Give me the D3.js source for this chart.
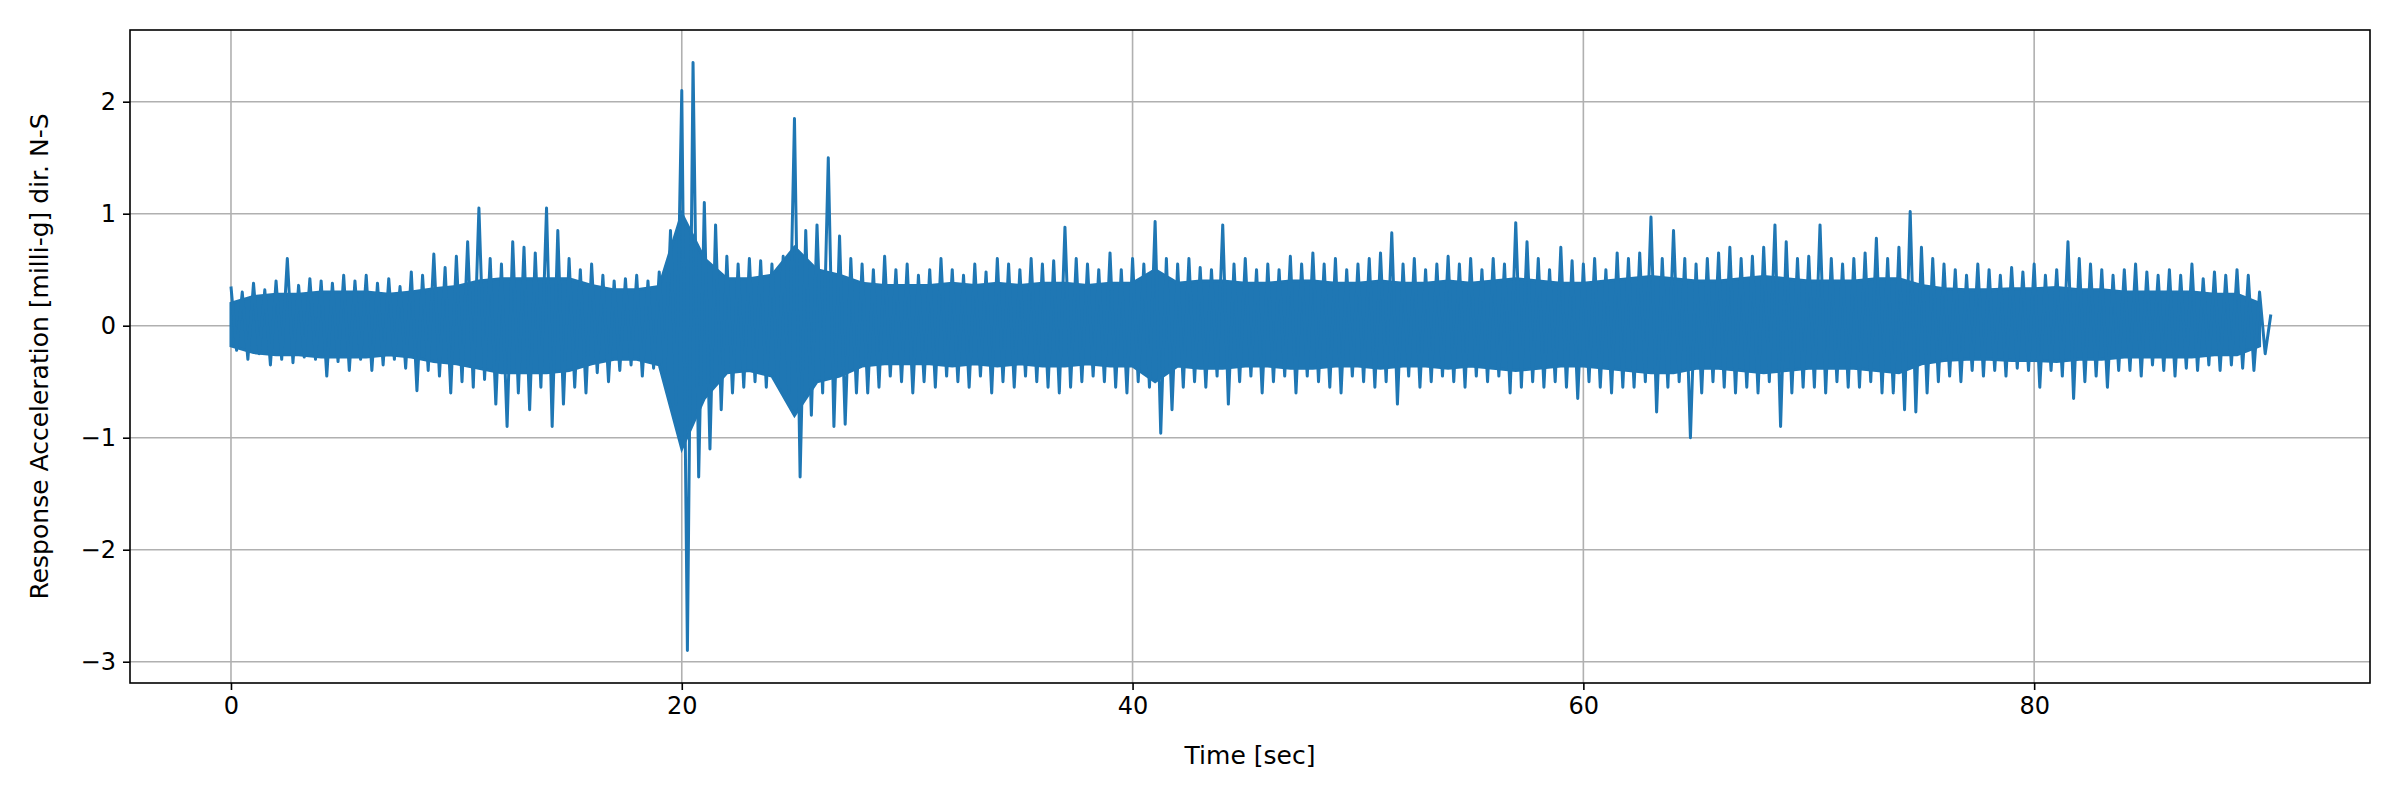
<!DOCTYPE html>
<html><head><meta charset="utf-8">
<script src="https://cdn.jsdelivr.net/npm/d3@7"></script>
<style>body{margin:0;background:#fff}svg{font-family:"DejaVu Sans",sans-serif}</style>
</head><body><svg id="c" width="2400" height="800"></svg>
<script>
const timeStep = 0.25;
const accel = [
0.35,-0.22,0.3,-0.3,0.38,-0.25,0.32,-0.35,
0.4,-0.3,0.6,-0.33,0.36,-0.28,0.42,-0.3,
0.4,-0.45,0.38,-0.32,0.45,-0.4,0.4,-0.3,
0.45,-0.4,0.38,-0.35,0.42,-0.3,0.35,-0.38,
0.48,-0.58,0.45,-0.4,0.64,-0.45,0.52,-0.6,
0.62,-0.5,0.75,-0.55,1.05,-0.48,0.6,-0.7,
0.55,-0.9,0.75,-0.6,0.7,-0.75,0.65,-0.55,
1.05,-0.9,0.85,-0.7,0.6,-0.55,0.5,-0.6,
0.55,-0.42,0.45,-0.5,0.4,-0.4,0.42,-0.35,
0.45,-0.45,0.4,-0.38,0.48,-0.42,0.85,-0.7,
2.1,-2.9,2.35,-1.35,1.1,-1.1,0.9,-0.75,
0.62,-0.6,0.55,-0.55,0.6,-0.5,0.58,-0.55,
0.55,-0.5,0.62,-0.6,1.85,-1.35,0.85,-0.8,
0.9,-0.6,1.5,-0.9,0.8,-0.88,0.6,-0.6,
0.55,-0.6,0.5,-0.55,0.62,-0.45,0.5,-0.5,
0.55,-0.6,0.45,-0.5,0.5,-0.55,0.6,-0.45,
0.5,-0.5,0.45,-0.55,0.55,-0.45,0.48,-0.6,
0.6,-0.5,0.55,-0.55,0.5,-0.45,0.6,-0.5,
0.55,-0.55,0.58,-0.6,0.88,-0.55,0.6,-0.5,
0.55,-0.45,0.5,-0.5,0.65,-0.55,0.5,-0.6,
0.6,-0.5,0.55,-0.55,0.93,-0.96,0.6,-0.75,
0.55,-0.55,0.6,-0.5,0.52,-0.55,0.5,-0.45,
0.9,-0.7,0.55,-0.5,0.6,-0.45,0.5,-0.6,
0.55,-0.5,0.5,-0.45,0.62,-0.6,0.55,-0.45,
0.65,-0.5,0.55,-0.55,0.6,-0.6,0.5,-0.45,
0.55,-0.5,0.6,-0.55,0.65,-0.5,0.83,-0.7,
0.55,-0.45,0.6,-0.55,0.5,-0.5,0.55,-0.45,
0.62,-0.5,0.55,-0.55,0.6,-0.45,0.5,-0.5,
0.6,-0.45,0.55,-0.6,0.92,-0.55,0.75,-0.5,
0.6,-0.55,0.5,-0.5,0.7,-0.55,0.58,-0.65,
0.55,-0.5,0.6,-0.55,0.5,-0.6,0.65,-0.55,
0.6,-0.55,0.65,-0.5,0.97,-0.77,0.6,-0.55,
0.85,-0.5,0.6,-1.0,0.55,-0.6,0.6,-0.5,
0.65,-0.55,0.7,-0.6,0.6,-0.55,0.62,-0.6,
0.7,-0.5,0.9,-0.9,0.75,-0.6,0.6,-0.55,
0.62,-0.55,0.9,-0.6,0.6,-0.5,0.55,-0.55,
0.6,-0.55,0.65,-0.5,0.78,-0.6,0.6,-0.6,
0.7,-0.75,1.02,-0.77,0.7,-0.6,0.6,-0.5,
0.55,-0.45,0.5,-0.5,0.45,-0.4,0.55,-0.45,
0.5,-0.4,0.45,-0.45,0.52,-0.38,0.48,-0.4,
0.55,-0.55,0.45,-0.4,0.5,-0.45,0.75,-0.65,
0.6,-0.5,0.55,-0.45,0.5,-0.55,0.45,-0.4,
0.5,-0.4,0.55,-0.45,0.48,-0.35,0.45,-0.4,
0.5,-0.45,0.45,-0.38,0.55,-0.4,0.42,-0.35,
0.48,-0.4,0.45,-0.35,0.5,-0.38,0.45,-0.4,
0.3,-0.25,0.1
];
// dense core of the signal band, one value per second
const coreStep = 1;
const coreHi = [
0.2,0.26,0.28,0.28,0.3,0.3,0.3,0.28,0.3,0.33,
0.35,0.4,0.42,0.42,0.42,0.42,0.36,0.32,0.32,0.35,
1.0,0.6,0.42,0.42,0.45,0.7,0.5,0.45,0.38,0.36,
0.36,0.36,0.38,0.36,0.38,0.36,0.38,0.38,0.36,0.38,
0.38,0.5,0.38,0.4,0.4,0.38,0.38,0.4,0.4,0.38,
0.38,0.4,0.38,0.38,0.4,0.38,0.4,0.42,0.4,0.38,
0.38,0.4,0.42,0.44,0.42,0.4,0.4,0.42,0.44,0.42,
0.4,0.4,0.4,0.42,0.42,0.36,0.33,0.32,0.32,0.33,
0.33,0.34,0.32,0.32,0.3,0.3,0.3,0.3,0.28,0.28,0.2];
const coreLo = [
-0.18,-0.24,-0.26,-0.26,-0.28,-0.28,-0.28,-0.26,-0.28,-0.32,
-0.34,-0.38,-0.42,-0.42,-0.42,-0.4,-0.34,-0.3,-0.3,-0.35,
-1.1,-0.65,-0.42,-0.4,-0.45,-0.8,-0.5,-0.45,-0.36,-0.34,
-0.34,-0.34,-0.36,-0.34,-0.36,-0.34,-0.36,-0.36,-0.34,-0.36,
-0.36,-0.5,-0.36,-0.38,-0.38,-0.36,-0.36,-0.38,-0.38,-0.36,
-0.36,-0.38,-0.36,-0.36,-0.38,-0.36,-0.38,-0.4,-0.38,-0.36,
-0.36,-0.38,-0.4,-0.42,-0.42,-0.38,-0.38,-0.4,-0.42,-0.4,
-0.38,-0.38,-0.38,-0.4,-0.42,-0.34,-0.31,-0.3,-0.3,-0.31,
-0.31,-0.32,-0.3,-0.3,-0.28,-0.28,-0.28,-0.28,-0.26,-0.26,-0.18];
const xTicks = [0,20,40,60,80];
const yTicks = [-3,-2,-1,0,1,2];

const L=130,R=2370,T=30,B=683;
const x=d3.scaleLinear().domain([-4.48,94.9]).range([L,R]);
const y=d3.scaleLinear().domain([-3.19,2.64]).range([B,T]);
const svg=d3.select("#c");
const g=svg.append("g");
g.selectAll(".gx").data(xTicks).join("line").attr("x1",d=>x(d)).attr("x2",d=>x(d)).attr("y1",T).attr("y2",B).attr("stroke","#b0b0b0").attr("stroke-width",1.6);
g.selectAll(".gy").data(yTicks).join("line").attr("y1",d=>y(d)).attr("y2",d=>y(d)).attr("x1",L).attr("x2",R).attr("stroke","#b0b0b0").attr("stroke-width",1.6);
const core=d3.area().x((d,i)=>x(Math.min(i*coreStep,90.5))).y0((d,i)=>y(coreLo[i])).y1(d=>y(d));
svg.append("path").datum(coreHi).attr("d",core).attr("fill","#1f77b4").attr("stroke","#1f77b4").attr("stroke-width",3);
const line=d3.line().x((d,i)=>x(i*timeStep)).y(d=>y(d));
svg.append("path").datum(accel).attr("d",line).attr("fill","none").attr("stroke","#1f77b4").attr("stroke-width",3).attr("stroke-linejoin","round");
svg.append("rect").attr("x",L).attr("y",T).attr("width",R-L).attr("height",B-T).attr("fill","none").attr("stroke","#000").attr("stroke-width",1.6);
const xa=svg.append("g").attr("transform",`translate(0,${B})`).call(d3.axisBottom(x).tickValues(xTicks).tickSize(7).tickPadding(7).tickFormat(d3.format("d")));
const ya=svg.append("g").attr("transform",`translate(${L},0)`).call(d3.axisLeft(y).tickValues(yTicks).tickSize(7).tickPadding(7).tickFormat(d=>d<0?"\u2212"+(-d):d));
[xa,ya].forEach(a=>{a.select(".domain").remove();a.selectAll("text").attr("font-size",24).attr("fill","#000").attr("font-family","DejaVu Sans");a.selectAll("line").attr("stroke","#000").attr("stroke-width",1.6);});
svg.append("text").attr("x",(L+R)/2).attr("y",764).attr("text-anchor","middle").attr("font-size",25).text("Time [sec]");
svg.append("text").attr("transform",`translate(48,${(T+B)/2}) rotate(-90)`).attr("text-anchor","middle").attr("font-size",25).text("Response Acceleration [milli-g] dir. N-S");
</script></body></html>
